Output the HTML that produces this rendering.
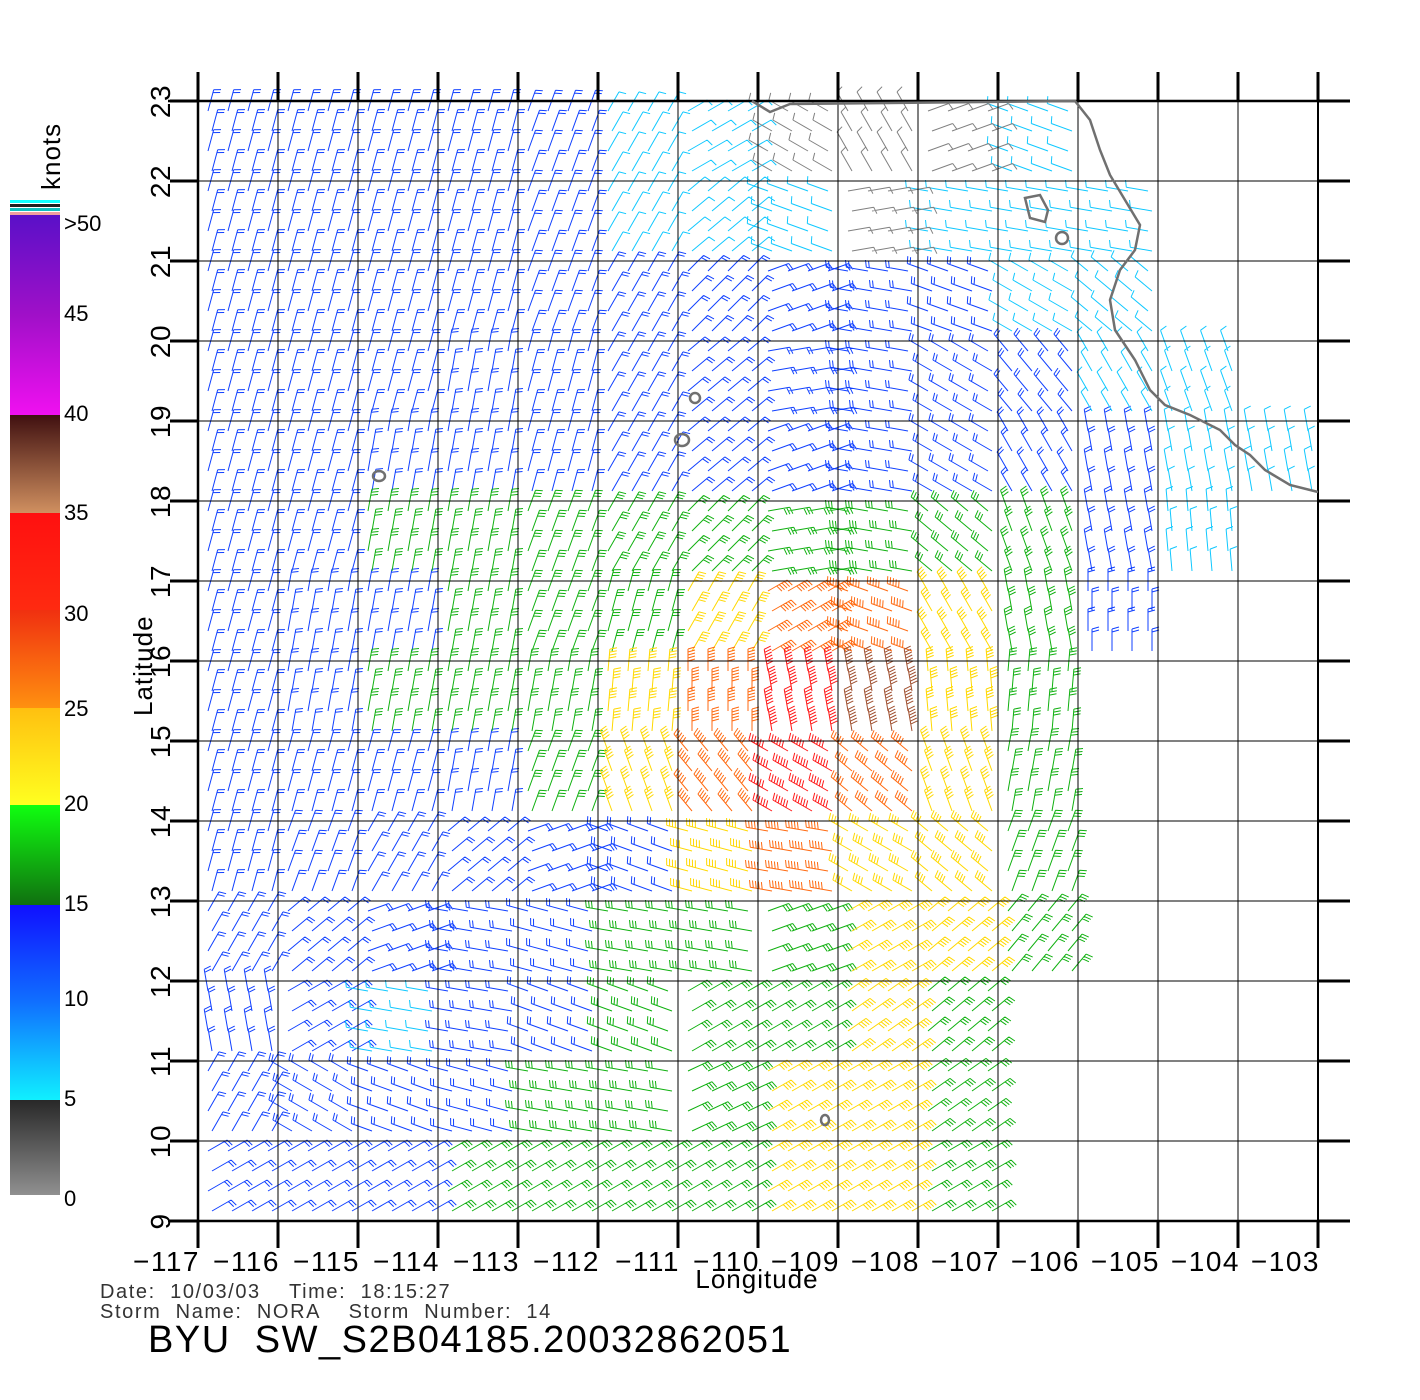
<!DOCTYPE html>
<html><head><meta charset="utf-8"><style>
body{margin:0;background:#fff;width:1420px;height:1400px;overflow:hidden}
svg{display:block;font-family:"Liberation Sans",sans-serif}
</style></head><body>
<svg id="chart" width="1420" height="1400" viewBox="0 0 1420 1400" xmlns="http://www.w3.org/2000/svg">
<defs>
<linearGradient id="gPur" x1="0" y1="0" x2="0" y2="1"><stop offset="0" stop-color="#5a10c8"/><stop offset="0.5" stop-color="#a010c8"/><stop offset="1" stop-color="#f010f0"/></linearGradient>
<linearGradient id="gBrn" x1="0" y1="0" x2="0" y2="1"><stop offset="0" stop-color="#401010"/><stop offset="1" stop-color="#d09060"/></linearGradient>
<linearGradient id="gRed" x1="0" y1="0" x2="0" y2="1"><stop offset="0" stop-color="#ff1010"/><stop offset="1" stop-color="#ff2a10"/></linearGradient>
<linearGradient id="gOrg" x1="0" y1="0" x2="0" y2="1"><stop offset="0" stop-color="#f03010"/><stop offset="1" stop-color="#ff9010"/></linearGradient>
<linearGradient id="gYel" x1="0" y1="0" x2="0" y2="1"><stop offset="0" stop-color="#ffc010"/><stop offset="1" stop-color="#ffff20"/></linearGradient>
<linearGradient id="gGrn" x1="0" y1="0" x2="0" y2="1"><stop offset="0" stop-color="#10ff10"/><stop offset="1" stop-color="#107010"/></linearGradient>
<linearGradient id="gBlu" x1="0" y1="0" x2="0" y2="1"><stop offset="0" stop-color="#1010ff"/><stop offset="0.5" stop-color="#1070ff"/><stop offset="1" stop-color="#10f0ff"/></linearGradient>
<linearGradient id="gGry" x1="0" y1="0" x2="0" y2="1"><stop offset="0" stop-color="#282828"/><stop offset="1" stop-color="#909090"/></linearGradient>
</defs>
<g id="barbs"></g>
<g id="grid"></g>
<g fill="none" stroke="#707070" stroke-width="2.5">
<path d="M752,101 L770,112 L790,104 L1075,101 L1090,120 L1100,150 L1110,175 L1125,200 L1140,225 L1135,250 L1120,270 L1110,300 L1115,330 L1135,360 L1150,390 L1165,405 L1190,415 L1220,430 L1235,445 L1250,455 L1265,470 L1290,485 L1318,492"/>
<path d="M1025,198 L1040,195 L1048,210 L1045,222 L1030,218 Z"/><ellipse cx="1062" cy="238" rx="6" ry="6"/>
<ellipse cx="695" cy="398" rx="5" ry="5"/><ellipse cx="682" cy="440" rx="7" ry="6"/><ellipse cx="379" cy="476" rx="6" ry="5"/><ellipse cx="825" cy="1120" rx="4" ry="5"/>
</g>
<g id="cbar">
<rect x="10" y="200" width="50" height="3" fill="#10ffff"/><rect x="10" y="204" width="50" height="3" fill="#202020"/><rect x="10" y="208" width="50" height="3" fill="#10c0c0"/><rect x="10" y="212" width="50" height="3" fill="#f0a0a0"/>
<rect x="10" y="215" width="50" height="200" fill="url(#gPur)"/>
<rect x="10" y="415" width="50" height="98" fill="url(#gBrn)"/>
<rect x="10" y="513" width="50" height="97" fill="url(#gRed)"/>
<rect x="10" y="610" width="50" height="98" fill="url(#gOrg)"/>
<rect x="10" y="708" width="50" height="97" fill="url(#gYel)"/>
<rect x="10" y="805" width="50" height="100" fill="url(#gGrn)"/>
<rect x="10" y="905" width="50" height="195" fill="url(#gBlu)"/>
<rect x="10" y="1100" width="50" height="95" fill="url(#gGry)"/>
<g font-size="22" fill="#000">
<text x="64" y="231">&gt;50</text><text x="64" y="321">45</text><text x="64" y="421">40</text><text x="64" y="520">35</text><text x="64" y="621">30</text><text x="64" y="716">25</text><text x="64" y="811">20</text><text x="64" y="911">15</text><text x="64" y="1006">10</text><text x="64" y="1106">5</text><text x="64" y="1206">0</text>
</g>
<text transform="translate(60,190) rotate(-90)" font-size="26" letter-spacing="1">knots</text>
</g>
<g font-size="26" fill="#000" letter-spacing="1">
<text transform="translate(152,716) rotate(-90)">Latitude</text>
<text x="757" y="1288" text-anchor="middle">Longitude</text>
</g>
<g font-size="20" fill="#333" letter-spacing="1.6">
<text x="100" y="1298" xml:space="preserve">Date:  10/03/03    Time:  18:15:27</text>
<text x="100" y="1318" xml:space="preserve">Storm  Name:  NORA    Storm  Number:  14</text>
</g>
<text x="148" y="1352" font-size="38" fill="#000" letter-spacing="1.5" xml:space="preserve">BYU  SW_S2B04185.20032862051</text>
</svg>
<script>
const lonTicks=[-117,-116,-115,-114,-113,-112,-111,-110,-109,-108,-107,-106,-105,-104,-103];
const latTicks=[23,22,21,20,19,18,17,16,15,14,13,12,11,10,9];
// wind speed (knots) per 1-degree cell, rows lat 23->9, cols lon -117->-103
const speedRows=[
[12,12,12,12,11,8,6,4,4,4,5,null,null,null],
[12,12,12,12,11,9,8,5,4,6,7,7,null,null],
[12,12,12,12,12,11,11,12,11,10,9,8,null,null],
[12,12,12,12,12,12,11,12,13,12,11,9,8,null],
[12,12,13,13,13,13,12,13,14,14,13,10,8,7],
[12,13,15,15,16,16,17,17,17,16,15,12,9,null],
[12,13,14,16,17,19,22,26,28,24,17,13,null,null],
[12,13,15,16,18,21,27,31,38,24,17,null,null,null],
[12,12,13,13,16,24,29,30,28,22,17,null,null,null],
[12,12,12,12,12,13,23,28,22,21,17,null,null,null],
[12,12,12,12,14,15,17,19,21,20,17,null,null,null],
[13,12,8,12,13,16,17,19,21,18,null,null,null,null],
[13,12,12,14,16,17,18,21,20,17,null,null,null,null],
[12,12,13,16,17,17,18,21,21,17,null,null,null,null]];
// staff orientation (degrees) per cell
const dirRows=[
[75,75,75,75,70,60,30,150,120,20,160,0,0,0],
[75,75,75,75,70,60,40,160,10,170,170,170,0,0],
[75,75,75,75,70,60,45,20,170,160,150,140,0,0],
[75,75,75,80,75,60,40,10,170,150,130,120,110,0],
[75,75,80,80,75,60,40,20,170,150,120,100,100,100],
[75,75,80,80,70,60,45,10,170,140,110,100,95,0],
[75,80,80,80,70,75,60,30,160,120,100,90,90,0],
[75,80,80,80,80,85,90,100,100,95,85,80,0,0],
[75,75,75,80,70,110,130,150,140,110,80,70,0,0],
[75,70,60,40,20,160,165,170,150,140,70,60,0,0],
[60,40,20,170,165,170,170,20,30,40,50,0,0,0],
[100,30,170,170,160,160,30,30,35,40,45,0,0,0],
[60,150,160,165,170,170,25,30,30,35,40,0,0,0],
[30,30,30,30,30,30,30,30,30,30,0,0,0,0]];
const NS='http://www.w3.org/2000/svg';
const xS=lon=>198+(lon+117)*80, yS=lat=>101+(23-lat)*80;
function colorFor(s){if(s<5)return'#808080';if(s<10)return'#10c8ff';if(s<15)return'#1040ff';if(s<20)return'#10b010';if(s<25)return'#ffd800';if(s<30)return'#ff6a10';if(s<35)return'#ff1818';if(s<40)return'#a05030';return'#e010e0';}
const paths={};
const per=4, step=80/per;
speedRows.forEach((row,r)=>row.forEach((s,c)=>{
 if(s===null)return;
 const a=dirRows[r][c]*Math.PI/180, col=colorFor(s);
 const dx=Math.cos(a), dy=-Math.sin(a), px=-dy, py=dx;
 let d=paths[col]||'';
 for(let i=0;i<per;i++)for(let j=0;j<per;j++){
  const x0=xS(lonTicks[0]+c)+step*(i+0.5)+ (j%2)*4, y0=yS(latTicks[0]-r)+step*(j+0.5);
  const L=22, x1=x0+dx*L, y1=y0+dy*L;
  d+=`M${x0.toFixed(1)},${y0.toFixed(1)}L${x1.toFixed(1)},${y1.toFixed(1)}`;
  const n=Math.max(1,Math.floor(s/5));
  for(let k=0;k<Math.min(n,6);k++){const bx=x1-dx*k*3, by=y1-dy*k*3;
   d+=`M${bx.toFixed(1)},${by.toFixed(1)}l${(px*7+dx*2).toFixed(1)},${(py*7+dy*2).toFixed(1)}`;}
 }
 paths[col]=d;
}));
const bg=document.getElementById('barbs');
for(const col in paths){const p=document.createElementNS(NS,'path');


p.setAttribute('d',paths[col]);p.setAttribute('stroke',col);p.setAttribute('fill','none');p.setAttribute('stroke-width','1');bg.appendChild(p);}
const g=document.getElementById('grid');
function ln(x1,y1,x2,y2,w,name){const l=document.createElementNS(NS,'line');


l.setAttribute('x1',x1);l.setAttribute('y1',y1);l.setAttribute('x2',x2);l.setAttribute('y2',y2);l.setAttribute('stroke','#000');l.setAttribute('stroke-width',w);g.appendChild(l);}
function tx(x,y,s,anchor,rot,name){const t=document.createElementNS(NS,'text');


t.setAttribute('font-size','28');t.setAttribute('letter-spacing','1.5');t.setAttribute('text-anchor',anchor);
if(rot)t.setAttribute('transform',`translate(${x},${y}) rotate(-90)`);else{t.setAttribute('x',x);t.setAttribute('y',y);}
t.textContent=s;g.appendChild(t);}
lonTicks.forEach(lon=>{const x=xS(lon);ln(x,101,x,1221,1,'lon-gridline');ln(x,72,x,101,3,'lon-tick-top');ln(x,1221,x,1248,3,'lon-tick-bottom');
 tx(x+2,1271,'\u2212'+Math.abs(lon),'end',false,'x-tick-label');});
latTicks.forEach(lat=>{const y=yS(lat);ln(170,y,1350,y,1,'lat-gridline');ln(170,y,198,y,3,'lat-tick-left');ln(1318,y,1350,y,3,'lat-tick-right');
 tx(170,y,String(lat),'middle',true,'y-tick-label');});
ln(168,101,1350,101,2.5,'frame-top');ln(168,1221,1350,1221,2.5,'frame-bottom');ln(198,72,198,1248,2.5,'frame-left');ln(1318,72,1318,1248,2,'frame-right');
</script>
</body></html>
